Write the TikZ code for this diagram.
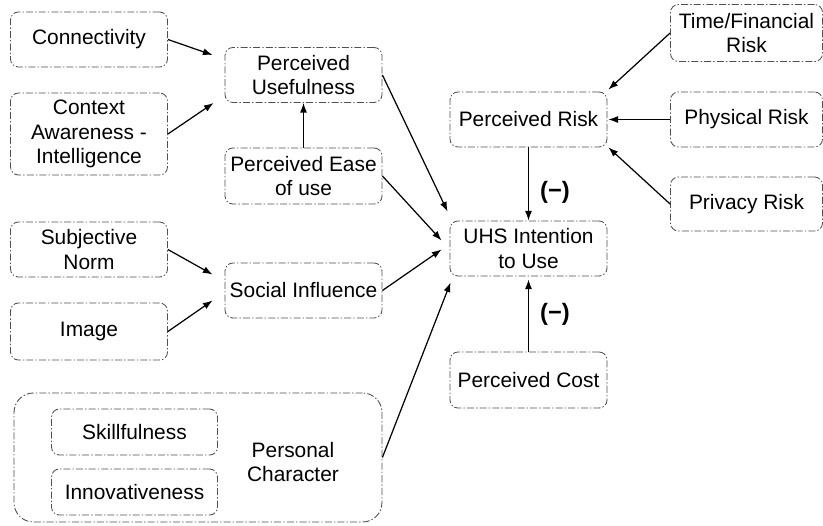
\documentclass[tikz,border=0pt]{standalone}
\usepackage{fontspec}
\setmainfont{Liberation Sans}
\usepackage{tikz}
\usetikzlibrary{arrows.meta, positioning, calc}
\definecolor{boxgray}{RGB}{80,80,80}

\tikzset{
    box/.style={draw=boxgray, line width=0.5pt, dash pattern=on 4pt off 1.2pt on 0.8pt off 1.2pt,
        rounded corners=4.5pt, minimum width=3.14cm, minimum height=1.1cm,
        align=center, inner sep=2pt},
    arr/.style={-{Latex[length=5.5pt,width=4pt]}, line width=0.7pt, black},
    neg/.style={font=\fontsize{13.5}{15}\selectfont\bfseries}
}

\begin{document}
\begin{tikzpicture}[x=0.02cm, y=-0.02cm, font=\fontsize{11.9}{13.9}\selectfont]
    \useasboundingbox (0,0) rectangle (823,525);

    % Usefulness inputs
    \node[box] (conn) at (89,39.5) {Connectivity};
    \node[box, minimum height=1.64cm] (ctx) at (89,134) {Context\\Awareness -\\Intelligence};
    \node[box] (pu) at (303.5,75) {Perceived\\Usefulness};
    \node[box, minimum height=1.12cm] (peou) at (303.5,176) {Perceived Ease\\of use};

    % Social inputs
    \node[box] (sn) at (89,249.5) {Subjective\\Norm};
    \node[box, minimum height=1.14cm] (img) at (89,331.5) {Image};
    \node[box] (si) at (303.5,290.5) {Social Influence};

    % Personal character
    \node[box, rounded corners=11pt, minimum width=7.36cm, minimum height=2.58cm] (pc) at (198,457.5) {};
    \node[box, minimum width=3.32cm, minimum height=0.92cm] (skill) at (134.5,432) {Skillfulness};
    \node[box, minimum width=3.32cm, minimum height=0.92cm] (innov) at (134.5,492) {Innovativeness};
    \node[align=center] (pclabel) at (293,462) {Personal\\Character};

    % Centre column
    \node[box] (uhs) at (528.5,248.5) {UHS Intention\\to Use};
    \node[box] (pr) at (528.5,119.5) {Perceived Risk};
    \node[box, minimum height=1.12cm] (cost) at (528.5,380) {Perceived Cost};

    % Risk inputs
    \node[box, minimum width=3.04cm, minimum height=1.14cm] (tf) at (746.5,33) {Time/Financial\\Risk};
    \node[box, minimum width=3.04cm] (phys) at (746.5,119.5) {Physical Risk};
    \node[box, minimum width=3.04cm, minimum height=1.08cm] (priv) at (746.5,204) {Privacy Risk};

    % Arrows into usefulness
    \draw[arr] (conn.east) -- ($(pu.west)+(-12,-20)$);
    \draw[arr] (ctx.east) -- ($(pu.west)+(-11,28)$);
    \draw[arr] (peou.north) -- (pu.south);

    % Arrows into social influence
    \draw[arr] (sn.east) -- ($(si.west)+(-12,-16)$);
    \draw[arr] (img.east) -- ($(si.west)+(-12,10)$);

    % Arrows into intention
    \draw[arr] (pu.east) -- ($(uhs.north west)+(-2,-9)$);
    \draw[arr] (peou.east) -- ($(uhs.west)+(-8,-8)$);
    \draw[arr] (si.east) -- ($(uhs.west)+(-8,1)$);
    \draw[arr] (pc.east) -- ($(uhs.south west)+(1,6)$);
    \draw[arr] (pr.south) -- (uhs.north);
    \draw[arr] (cost.north) -- ($(uhs.south)+(0,3)$);
    \node[neg] (neg1) at (555,192) {(−)};
    \node[neg] (neg2) at (555,314) {(−)};

    % Arrows into perceived risk
    \draw[arr] (tf.west) -- ($(pr.north east)+(1,-2)$);
    \draw[arr] (phys.west) -- ($(pr.east)+(1,0)$);
    \draw[arr] (priv.west) -- ($(pr.south east)+(1,0)$);
\end{tikzpicture}
\end{document}
